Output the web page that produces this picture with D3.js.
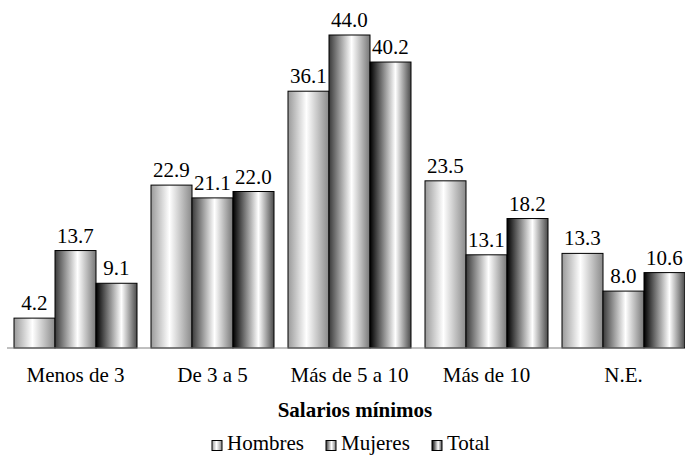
<!DOCTYPE html>
<html>
<head>
<meta charset="utf-8">
<script src="https://cdn.jsdelivr.net/npm/d3@7"></script>
<style>
  html, body { margin: 0; padding: 0; background: #fff; }
</style>
</head>
<body>
<svg id="chart" width="685" height="456"></svg>
<script>
// data
var categories = ['Menos de 3', 'De 3 a 5', 'Más de 5 a 10', 'Más de 10', 'N.E.'];
var seriesNames = ['Hombres', 'Mujeres', 'Total'];
var hombres = [4.2, 22.9, 36.1, 23.5, 13.3];
var mujeres = [13.7, 21.1, 44.0, 13.1, 8.0];
var total = [9.1, 22.0, 40.2, 18.2, 10.6];
var axisTitle = 'Salarios mínimos';

var seriesValues = [hombres, mujeres, total];
var FONT = "'Liberation Serif', 'Times New Roman', Times, 'DejaVu Serif', serif";

var svg = d3.select('#chart')
    .attr('font-family', FONT),
    baseY = 348;

// horizontal metallic gradients, one per series
var gradStops = [
  [['0%', '#9a9a9a'], ['45%', '#ffffff'], ['100%', '#8a8a8a']],
  [['0%', '#3a3a3a'], ['55%', '#ffffff'], ['100%', '#777777']],
  [['0%', '#000000'], ['62%', '#ffffff'], ['100%', '#4a4a4a']]
];
var defs = svg.append('defs');
gradStops.forEach(function(stops, i) {
  var g = defs.append('linearGradient')
    .attr('id', 'grad' + i)
    .attr('x1', '0%').attr('x2', '100%')
    .attr('y1', '0%').attr('y2', '0%');
  stops.forEach(function(s) {
    g.append('stop').attr('offset', s[0]).attr('stop-color', s[1]);
  });
});

var x0 = d3.scaleBand()
    .domain(categories)
    .range([7, 692])
    .paddingInner(0.1022)
    .paddingOuter(0.0511);

var x1 = d3.scaleBand()
    .domain(seriesNames)
    .range([0, x0.bandwidth()]);

var y = d3.scaleLinear()
    .domain([0, 44])
    .range([baseY, 35]);

var rows = categories.map(function(c, ci) {
  return {
    cat: c,
    vals: seriesNames.map(function(s, si) {
      return { name: s, idx: si, v: seriesValues[si][ci] };
    })
  };
});

var groups = svg.append('g').selectAll('g')
  .data(rows)
  .enter().append('g')
  .attr('transform', function(d) { return 'translate(' + x0(d.cat) + ',0)'; });

groups.selectAll('rect')
  .data(function(d) { return d.vals; })
  .enter().append('rect')
  .attr('x', function(d) { return x1(d.name); })
  .attr('y', function(d) { return y(d.v); })
  .attr('width', x1.bandwidth())
  .attr('height', function(d) { return baseY - y(d.v); })
  .attr('fill', function(d) { return 'url(#grad' + d.idx + ')'; })
  .attr('stroke', '#000')
  .attr('stroke-width', 1);

groups.selectAll('text')
  .data(function(d) { return d.vals; })
  .enter().append('text')
  .attr('x', function(d) { return x1(d.name) + x1.bandwidth() / 2; })
  .attr('y', function(d) { return y(d.v) - 8; })
  .attr('text-anchor', 'middle')
  .style('font-family', FONT)
  .style('font-size', '21px')
  .text(function(d) { return d3.format('.1f')(d.v); });

// x axis: plain gray line, no ticks
var xAxis = d3.axisBottom(x0).tickSize(0).tickPadding(0);
var axisG = svg.append('g')
  .attr('transform', 'translate(0,' + baseY + ')')
  .call(xAxis)
  .attr('font-family', FONT);
axisG.select('.domain').remove();
axisG.append('line')
  .attr('x1', 7).attr('x2', 684)
  .attr('y1', 0).attr('y2', 0)
  .attr('stroke', '#808080')
  .attr('stroke-width', 1);
axisG.selectAll('.tick text')
  .attr('y', 34)
  .attr('dy', 0)
  .style('font-size', '21px')
  .style('font-family', FONT)
  .attr('fill', '#000');

svg.append('text')
  .attr('x', 355)
  .attr('y', 417)
  .attr('text-anchor', 'middle')
  .style('font-family', FONT)
  .style('font-size', '21px')
  .style('font-weight', 'bold')
  .text(axisTitle);

// legend
var legendX = [212, 326, 432];
var legend = svg.append('g').selectAll('g')
  .data(seriesNames)
  .enter().append('g')
  .attr('transform', function(d, i) { return 'translate(' + legendX[i] + ',0)'; });

legend.append('rect')
  .attr('x', 0).attr('y', 440.5)
  .attr('width', 10).attr('height', 10)
  .attr('fill', function(d, i) { return 'url(#grad' + i + ')'; })
  .attr('stroke', '#000')
  .attr('stroke-width', 1);

legend.append('text')
  .attr('x', 15)
  .attr('y', 450)
  .style('font-family', FONT)
  .style('font-size', '21px')
  .text(function(d) { return d; });
</script>
</body>
</html>
